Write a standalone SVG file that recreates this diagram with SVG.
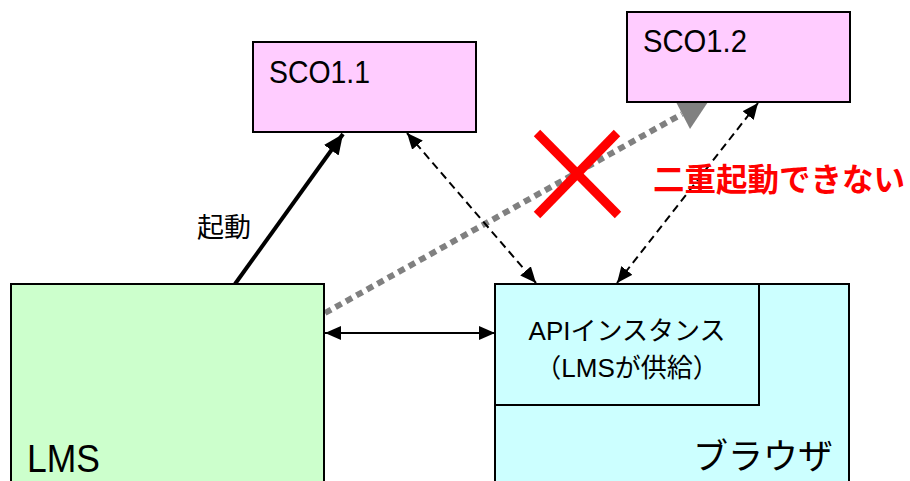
<svg xmlns="http://www.w3.org/2000/svg" width="910" height="481" viewBox="0 0 910 481">
<style>
.box{stroke:#000;stroke-width:2}
.sco{fill:#FFCCFF}
.lms{fill:#CCFFCC}
.br{fill:#CCFFFF}
.t{font-family:"Liberation Sans","Noto Sans CJK JP",sans-serif;fill:#000}
.dash{stroke:#000;stroke-width:2;stroke-dasharray:8 5;fill:none}
</style>
<defs>
<marker id="ah" markerUnits="userSpaceOnUse" markerWidth="16" markerHeight="14" refX="16" refY="7" orient="auto-start-reverse">
<path d="M0,0 L16,7 L0,14 z" fill="#000"/>
</marker>
<marker id="ahBig" markerUnits="userSpaceOnUse" markerWidth="20" markerHeight="18" refX="20" refY="9" orient="auto">
<path d="M0,0 L20,9 L0,18 z" fill="#000"/>
</marker>
</defs>
<rect width="910" height="481" fill="#fff"/>
<g id="connectors">
<line x1="325" y1="313" x2="682" y2="114" stroke="#808080" stroke-width="6" stroke-dasharray="7 5"/>
<polygon points="676,102 708,102 690,129" fill="#808080"/>
<line x1="235" y1="284" x2="343" y2="134" stroke="#000" stroke-width="4" marker-end="url(#ahBig)"/>
<line x1="407" y1="133" x2="536" y2="283" class="dash" marker-start="url(#ah)" marker-end="url(#ah)"/>
<line x1="758" y1="103" x2="617" y2="283" class="dash" marker-start="url(#ah)" marker-end="url(#ah)"/>
<line x1="325" y1="333" x2="495" y2="333" stroke="#000" stroke-width="2" marker-start="url(#ah)" marker-end="url(#ah)"/>
</g>
<g id="sco11">
<rect x="253" y="42" width="223" height="90" class="box sco"/>
<text x="269" y="83" class="t" font-size="31" textLength="101" lengthAdjust="spacingAndGlyphs">SCO1.1</text>
</g>
<g id="sco12">
<rect x="627" y="12" width="223" height="90" class="box sco"/>
<text x="643" y="52" class="t" font-size="31" textLength="104" lengthAdjust="spacingAndGlyphs">SCO1.2</text>
</g>
<g id="lms">
<rect x="11" y="284" width="313" height="210" class="box lms"/>
<text x="27" y="472" class="t" font-size="39" textLength="73" lengthAdjust="spacingAndGlyphs">LMS</text>
</g>
<g id="browser">
<rect x="495" y="284" width="354" height="210" class="box br"/>
<text x="693" y="469" class="t" font-size="35">ブラウザ</text>
</g>
<g id="api">
<rect x="495" y="284" width="264" height="121" class="box br"/>
<text x="627" y="340" class="t" font-size="26" text-anchor="middle">APIインスタンス</text>
<text x="627" y="377" class="t" font-size="26" text-anchor="middle">（LMSが供給）</text>
</g>
<g id="label-kidou">
<text x="197" y="237" class="t" font-size="27">起動</text>
</g>
<g id="cross">
<line x1="537" y1="133" x2="618" y2="215" stroke="#FF0000" stroke-width="9"/>
<line x1="617" y1="133" x2="537" y2="215" stroke="#FF0000" stroke-width="9"/>
<text x="653" y="191" font-family="'Noto Sans CJK JP',sans-serif" font-weight="bold" font-size="31.5" fill="#FF0000">二重起動できない</text>
</g>
</svg>
